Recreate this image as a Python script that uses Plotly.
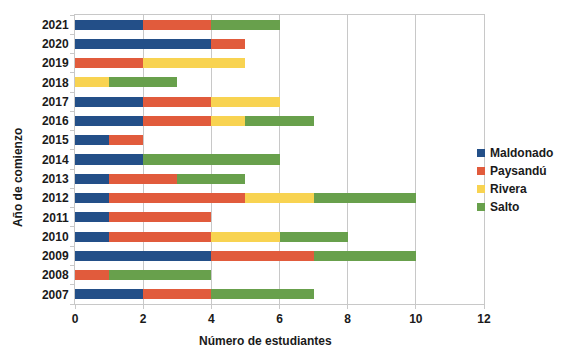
import plotly.graph_objects as go

years = [str(y) for y in range(2007, 2022)]
series_names = ["Maldonado", "Paysandú", "Rivera", "Salto"]
maldonado = [2, 0, 4, 1, 1, 1, 1, 2, 1, 2, 2, 0, 0, 4, 2]
paysandu  = [2, 1, 3, 3, 3, 4, 2, 0, 1, 2, 2, 0, 2, 1, 2]
rivera    = [0, 0, 0, 2, 0, 2, 0, 0, 0, 1, 2, 1, 3, 0, 0]
salto     = [3, 3, 3, 2, 0, 3, 2, 4, 0, 2, 0, 2, 0, 0, 2]
colors = ["#234f88", "#e15b3c", "#f8d351", "#68a04c"]
x_ticks = [0, 2, 4, 6, 8, 10, 12]

values = [maldonado, paysandu, rivera, salto]

FONT = "Liberation Sans, Arial, sans-serif"
TXT = "#1a1a1a"
GRID = "#c8c8c8"

# page has an 8px body margin; figure sized to fit the 568x356 window
OFF = 8
FW, FH = 552, 340
PL, PR, PT, PB = 75, 484.5, 15, 304   # plot area in page pixels
L = PL - OFF
T = PT - OFF
W = PR - PL
H = PB - PT
R = FW - L - W
B = FH - T - H

def px_x(p):
    return (p - PL) / W
def px_y(p):
    return (PB - p) / H

fig = go.Figure()
for name, vals, col in zip(series_names, values, colors):
    fig.add_trace(go.Bar(
        y=years, x=vals, name=name, orientation="h",
        marker=dict(color=col, line=dict(width=0)),
        showlegend=False,
    ))

legend_y = [153, 171, 189, 207]
for name, col, yc in zip(series_names, colors, legend_y):
    fig.add_shape(type="rect", xref="paper", yref="paper",
                  x0=px_x(477.5), x1=px_x(485.5), y0=px_y(yc + 4), y1=px_y(yc - 4),
                  fillcolor=col, line=dict(width=0), layer="above")
    fig.add_annotation(xref="paper", yref="paper", x=px_x(488.5), y=px_y(yc),
                       text=name, showarrow=False, xanchor="left", yanchor="middle",
                       font=dict(family=FONT, size=12, color=TXT, weight="bold"))

fig.add_annotation(xref="paper", yref="paper", x=px_x(265.5), y=px_y(341),
                   text="Número de estudiantes", showarrow=False,
                   xanchor="center", yanchor="middle",
                   font=dict(family=FONT, size=12, color=TXT, weight="bold"))
fig.add_annotation(xref="paper", yref="paper", x=px_x(18), y=px_y(178),
                   text="Año de comienzo", showarrow=False, textangle=-90,
                   xanchor="center", yanchor="middle",
                   font=dict(family=FONT, size=12, color=TXT, weight="bold"))

fig.update_layout(
    barmode="stack",
    bargap=0.48,
    width=FW, height=FH,
    margin=dict(l=L, r=R, t=T, b=B, pad=0, autoexpand=False),
    paper_bgcolor="white", plot_bgcolor="white",
    font=dict(family=FONT, size=12, color=TXT),
    showlegend=False,
    xaxis=dict(
        range=[0, 12], tickvals=x_ticks, ticktext=[str(v) for v in x_ticks],
        showgrid=True, gridcolor=GRID, gridwidth=1,
        showline=True, linecolor=GRID, linewidth=1, mirror=True,
        ticks="outside", ticklen=4, tickcolor=GRID,
        tickfont=dict(family=FONT, size=12, color=TXT, weight="bold"),
        zeroline=False, fixedrange=True,
    ),
    yaxis=dict(
        type="category", categoryorder="array", categoryarray=years,
        showgrid=False,
        showline=True, linecolor=GRID, linewidth=1, mirror=True,
        ticks="outside", ticklen=4, tickcolor=GRID, tickson="boundaries",
        tickfont=dict(family=FONT, size=12, color=TXT, weight="bold"),
        ticklabelstandoff=3,
        fixedrange=True,
    ),
)

fig.write_html("out.html")
